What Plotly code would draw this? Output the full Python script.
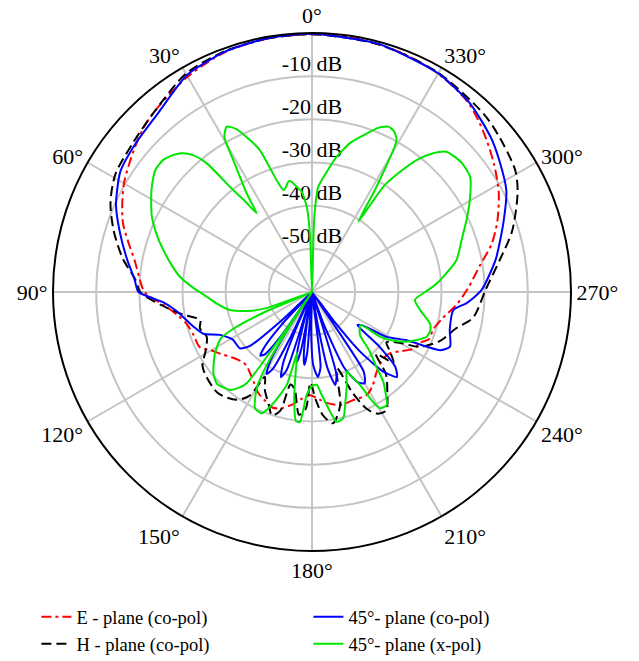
import plotly.graph_objects as go

# ---------------- data (angle in degrees, level in dB) ----------------
e_theta = [0, 10, 20, 30, 40, 45, 50, 55, 60, 65, 70, 75, 80, 85, 90, 95, 100, 105, 110, 116,
           120, 124, 129, 134, 138, 142, 147, 152, 157, 161, 165, 170, 174, 179, 184, 188, 194,
           201, 208, 213, 219, 227, 232, 236, 241, 245, 248, 253, 259, 265, 271, 279, 285, 291,
           298, 305, 311, 316, 321, 330, 340, 350, 360]
e_db = [-0.3, -0.4, -0.9, -2.4, -4.3, -5.3, -6.8, -8.3, -9.7, -11.5, -13.4, -16.0, -18.3, -19.8,
        -21.2, -25.5, -28.5, -30.2, -30.8, -31.0, -33.0, -34.4, -36.0, -37.0, -37.2, -36.5, -35.2,
        -33.5, -32.5, -31.7, -32.1, -33.5, -35.0, -36.1, -35.0, -34.0, -33.0, -33.2, -33.0, -34.2,
        -36.2, -37.4, -37.0, -35.4, -33.0, -32.3, -30.8, -30.6, -29.0, -26.4, -24.0, -20.6, -16.9,
        -14.0, -11.0, -8.5, -6.4, -4.6, -3.0, -1.6, -0.8, -0.4, -0.3]

h_theta = [0, 10, 20, 30, 41, 50, 59, 66, 73, 80, 86, 90, 95, 100, 104, 108, 113, 119, 124, 129,
           137, 145, 149, 151, 154, 159, 162, 165, 167, 170, 174, 177, 179, 182, 185, 189, 194,
           198, 202, 205, 208, 212, 217, 222, 226, 229, 233, 236, 240, 243, 249, 256, 261, 271,
           280, 287, 296, 301, 310, 316, 330, 345, 360]
h_db = [-0.3, -0.4, -0.7, -1.6, -4.5, -6.0, -6.9, -8.9, -12.0, -15.5, -19.0, -20.2, -25.0, -29.7,
        -33.3, -32.7, -33.5, -31.8, -29.4, -28.6, -28.0, -29.5, -32.0, -37.5, -35.0, -32.0, -30.0,
        -31.5, -38.0, -37.0, -31.4, -33.0, -39.0, -35.0, -31.4, -29.2, -33.0, -41.5, -34.7, -30.2,
        -28.1, -27.6, -31.0, -34.4, -39.4, -35.0, -37.5, -39.2, -36.4, -32.0, -28.3, -25.5, -22.2,
        -19.7, -15.7, -11.5, -7.0, -5.1, -3.6, -2.7, -1.4, -0.6, -0.3]

co45_theta = [0, 10, 20, 30, 41, 50, 58, 66, 73, 80, 86, 90, 94, 98, 106, 111, 115, 121, 128, 131,
              133, 135,
              137, 139, 141, 143, 145, 146,
              147, 149, 151, 153, 154.5, 155.5,
              156.5, 158, 160, 162, 163, 164,
              165, 166.5, 168, 169.5, 170.5,
              171, 172.5, 174, 175.5, 177,
              178.5, 181, 184, 186.5, 188.5,
              190, 191.5, 194, 196.5, 198.5,
              200, 203, 207, 210, 213, 215.5,
              217, 219, 222, 225, 228, 231, 234,
              236.5, 239, 243, 245.6, 248.4, 254.6, 262.7, 266, 270.7, 280, 290, 297.6, 305,
              311, 320, 330, 345, 360]
co45_db = [-0.2, -0.3, -0.8, -2.0, -5.4, -6.6, -7.6, -10.3, -13.5, -16.5, -18.8, -19.8, -25.5,
           -28.3, -31.3, -33.0, -36.5, -38.6, -38.8, -41.0,
           -50, -60,
           -50, -43.5, -41.0, -42.0, -48, -60,
           -50, -41.0, -38.3, -40.0, -48, -60,
           -50, -42.0, -39.0, -41.0, -50, -60,
           -52, -45.0, -43.5, -47.0, -60,
           -52, -45.5, -43.0, -46.0, -60,
           -52, -43.0, -40.3, -42.5, -60,
           -52, -42.0, -37.8, -40.0, -60,
           -52, -41.0, -36.5, -35.6, -38.0, -60,
           -52, -42.0, -35.0, -32.2, -34.0, -40.0, -47.0,
           -46.0, -39.8, -35.4, -27.4, -25.6, -26.9, -27.0, -24.0, -20.7, -16.8, -12.8, -9.2,
           -7.0, -5.2, -3.0, -1.5, -0.5, -0.2]

x45_theta = [0, 2, 3.5, 6, 8.3, 10.5, 12, 14, 15.7, 17.6, 20.2, 22.3, 25, 27.3, 29.5, 30.8, 33.5,
             35.1, 36.5, 37.7, 39.3, 41, 43.2, 46, 48.4, 52, 56.7, 60.5, 64.8, 70, 74.2, 79, 83.4,
             88, 92.6, 97, 102.4, 106.5, 109.5, 111.5,
             113, 115, 117, 122.3, 129.5, 134, 140, 142.5, 144.4, 145.2, 146,
             146.8, 147.4, 148.2, 150.1, 153.9, 157.5, 160.4, 164.8, 166.3,
             168.5, 170.5, 173, 174.7, 177, 180, 182.9,
             185, 187.4, 190.8, 193.9, 197, 200.5, 203.5,
             205.5, 207.3, 209, 210.3, 213.5, 216, 218.5, 221, 224.2, 228, 232,
             235.9, 236.7, 238.4, 242, 245.4, 248.7, 252, 255, 260.5, 265.6, 270, 273, 276.6,
             282.5, 289.2, 295, 300.2, 306, 311, 316.2, 319, 321.6, 324, 325.9, 326.6, 328.5,
             330.9, 333, 335.2, 338, 341, 345.7, 350, 353, 356.6, 358.3, 360]
x45_db = [-60, -47, -40.2, -36.5, -35.4, -34.0, -33.8, -35.0, -35.5, -32.7, -24.9, -21.9, -18.3,
          -16.9, -18.8, -24.3, -32.5, -37.7, -33.5, -30.2, -21.5, -18.0, -15.9, -14.6, -13.9, -14.0,
          -15.6, -17.2, -19.0, -21.8, -24.2, -26.8, -29.2, -32.5, -35.6, -37.8, -40.5, -44.5, -49,
          -60,
          -48, -40, -36.3, -33.4, -30.4, -29.4, -30.4, -32.0, -34.0, -45, -60,
          -50, -46.2, -40.0, -34.3, -30.0, -29.6, -32.2, -37.7, -45.5,
          -41.0, -35.0, -29.8, -29.8, -36.0, -38.2, -38.5,
          -36.5, -33.6, -29.4, -29.9, -33.5, -37.0, -39.9,
          -38.0, -35.7, -31.0, -28.8, -28.6, -31.0, -33.5, -37.5, -40.8, -45.0, -46.0,
          -46.4, -41.1, -38.8, -35.5, -33.3, -31.5, -31.2, -31.7, -34.6, -36.1, -33.8, -31.6,
          -29.4, -25.7, -23.3, -20.5, -17.7, -14.7, -14.2, -15.0, -17.5, -21.0, -26.0, -30.5,
          -40.5, -31.4, -19.7, -18.2, -17.8, -19.0, -21.2, -24.4, -28.5, -32.0, -35.6, -43, -60]

ring_levels = [-10, -20, -30, -40, -50]
ring_labels = ["-10 dB", "-20 dB", "-30 dB", "-40 dB", "-50 dB"]
angle_ticks = [0, 30, 60, 90, 120, 150, 180, 210, 240, 270, 300, 330]

FONT = "Liberation Serif"

fig = go.Figure()

# radial level labels (drawn first, under the curves)
fig.add_trace(go.Scatterpolar(
    r=ring_levels, theta=[0] * len(ring_levels), mode="text", text=ring_labels,
    textposition="top center", textfont=dict(family=FONT, size=22, color="black"),
    showlegend=False, hoverinfo="skip"))

fig.add_trace(go.Scatterpolar(
    r=e_db, theta=e_theta, mode="lines", name="E - plane (co-pol)", legendrank=1,
    line=dict(color="#ff0000", width=2, dash="10px,4px,3px,4px", shape="spline", smoothing=0.8)))
fig.add_trace(go.Scatterpolar(
    r=h_db, theta=h_theta, mode="lines", name="H - plane (co-pol)", legendrank=3,
    line=dict(color="#000000", width=2, dash="10px,5px", shape="spline", smoothing=0.8)))
fig.add_trace(go.Scatterpolar(
    r=co45_db, theta=co45_theta, mode="lines", name="45°- plane (co-pol)", legendrank=2,
    line=dict(color="#0000ff", width=2, shape="spline", smoothing=0.6)))
fig.add_trace(go.Scatterpolar(
    r=x45_db, theta=x45_theta, mode="lines", name="45°- plane (x-pol)", legendrank=4,
    line=dict(color="#00e600", width=2, shape="spline", smoothing=0.6)))

fig.update_layout(
    width=639, height=661,
    margin=dict(l=52, r=67, t=33, b=110, autoexpand=False),
    paper_bgcolor="white",
    font=dict(family=FONT, size=22, color="black"),
    polar=dict(
        bgcolor="white",
        radialaxis=dict(range=[-60, 0], dtick=10, tick0=0, showticklabels=False, ticks="",
                        showline=False, gridcolor="#c4c4c4", gridwidth=1.5, angle=90),
        angularaxis=dict(rotation=90, direction="counterclockwise", tickmode="array",
                         tickvals=angle_ticks, ticktext=[f"{a}°" for a in angle_ticks],
                         ticks="", showline=True, linecolor="black", linewidth=2,
                         gridcolor="#c4c4c4", gridwidth=1.5,
                         tickfont=dict(family=FONT, size=22, color="black")),
    ),
    legend=dict(orientation="h", x=-0.03, xanchor="left", y=-0.091, yanchor="top",
                entrywidth=227, font=dict(family=FONT, size=18.5, color="black"),
                traceorder="normal", bgcolor="rgba(0,0,0,0)"),
    showlegend=True,
)

fig.write_html("out.html")
